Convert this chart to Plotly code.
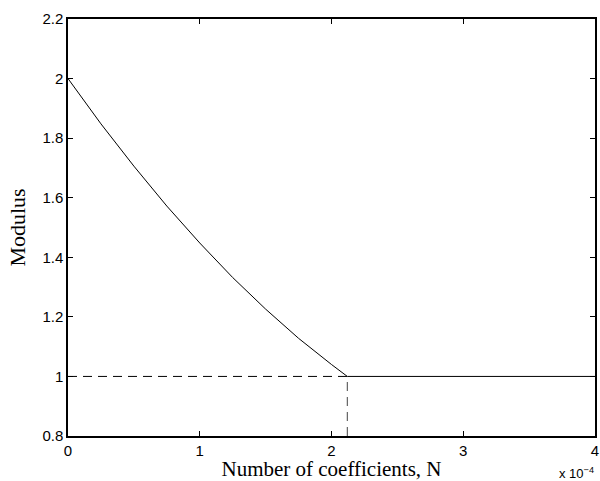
import plotly.graph_objects as go

# Data (x in units of 1e-4)
curve_x = [0.0, 0.25, 0.5, 0.75, 1.0, 1.25, 1.5, 1.75, 2.0, 2.12, 4.0]
curve_y = [2.0, 1.848, 1.706, 1.572, 1.448, 1.332, 1.226, 1.128, 1.040, 1.0, 1.0]
knee_x = 2.12
knee_y = 1.0
y_min = 0.8

x_ticks = [0, 1, 2, 3, 4]
y_ticks = [0.8, 1.0, 1.2, 1.4, 1.6, 1.8, 2.0, 2.2]
y_labels = ["0.8", "1", "1.2", "1.4", "1.6", "1.8", "2", "2.2"]

fig = go.Figure()
fig.add_trace(go.Scatter(x=curve_x, y=curve_y, mode="lines",
                         line=dict(color="black", width=1),
                         showlegend=False))
fig.add_trace(go.Scatter(x=[0, knee_x], y=[knee_y, knee_y], mode="lines",
                         line=dict(color="black", width=1, dash="9px,6px"),
                         showlegend=False))
fig.add_trace(go.Scatter(x=[knee_x, knee_x], y=[y_min, knee_y], mode="lines",
                         line=dict(color="#444444", width=1, dash="9px,6px"),
                         showlegend=False))

axis_common = dict(showline=True, linecolor="black", linewidth=1.5, mirror="ticks",
                   ticks="inside", ticklen=5, tickcolor="black", showgrid=False,
                   zeroline=False, automargin=False, ticklabeloverflow="allow",
                   tickfont=dict(family="Liberation Sans, Arial", size=15, color="black"))

fig.update_xaxes(range=[0, 4], tickvals=x_ticks,
                 title=dict(text="Number of coefficients, N",
                            font=dict(family="Liberation Serif, Times New Roman", size=21, color="black"),
                            standoff=2),
                 **axis_common)
fig.update_yaxes(range=[0.8, 2.2], tickvals=y_ticks, ticktext=y_labels,
                 title=dict(text="Modulus",
                            font=dict(family="Liberation Serif, Times New Roman", size=22, color="black"),
                            standoff=11),
                 **axis_common)

fig.add_annotation(x=1, y=0, xref="paper", yref="paper", xanchor="right", yanchor="top",
                   yshift=-27, xshift=1, showarrow=False,
                   text="x 10<sup>−4</sup>",
                   font=dict(family="Liberation Sans, Arial", size=13, color="black"))

fig.update_layout(width=600, height=481, plot_bgcolor="white", paper_bgcolor="white",
                  margin=dict(l=68, r=5, t=19, b=45, autoexpand=False))

fig.write_html("out.html", config={"displayModeBar": False},
               post_script="document.body.style.margin='0';document.body.style.overflow='hidden';")
